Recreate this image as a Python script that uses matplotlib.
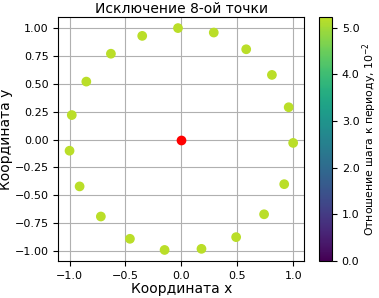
import matplotlib
matplotlib.use("Agg")
import matplotlib.pyplot as plt
from matplotlib.colors import ListedColormap
import numpy as np

x = [-0.03, 0.29, 0.58, 0.81, 0.96, 1.00, 0.92, 0.74, 0.49, 0.18,
     -0.15, -0.46, -0.72, -0.91, -1.00, -0.98, -0.85, -0.63, -0.35]
y = [1.00, 0.96, 0.81, 0.58, 0.29, -0.03, -0.40, -0.67, -0.875, -0.98,
     -0.99, -0.89, -0.69, -0.42, -0.10, 0.22, 0.52, 0.77, 0.93]
ratio = [5.2] * len(x)
center_x = [0.0]
center_y = [0.0]
cmin, cmax = 0.0, 5.23

cmap = ListedColormap(plt.get_cmap('viridis')(np.linspace(0.0, 0.9, 256)))

fig = plt.figure(figsize=(3.79, 2.98), dpi=100)
ax = fig.add_axes([0.154, 0.124, 0.649, 0.819])
cax = fig.add_axes([0.842, 0.124, 0.034, 0.819])

sc = ax.scatter(x, y, c=ratio, cmap=cmap, vmin=cmin, vmax=cmax, s=36, zorder=3)
ax.scatter(center_x, center_y, color='red', s=36, zorder=3)
ax.grid(True, zorder=0)
ax.set_axisbelow(True)
ax.set_title('Исключение 8-ой точки', fontsize=10, pad=3)
ax.set_xlabel('Координата x', fontsize=10, labelpad=1)
ax.set_ylabel('Координата y', fontsize=10, labelpad=1)
ax.tick_params(labelsize=8)
ax.set_xticks([-1.0, -0.5, 0.0, 0.5, 1.0])
ax.set_yticks([-1.0, -0.75, -0.5, -0.25, 0.0, 0.25, 0.5, 0.75, 1.0])

cb = fig.colorbar(sc, cax=cax, format='%.1f')
cb.set_ticks([0, 1, 2, 3, 4, 5])
cb.ax.tick_params(labelsize=8)
cb.set_label('Отношение шага к периоду, $10^{-2}$', fontsize=7.8, labelpad=1)

fig.savefig('out.png', dpi=100)
